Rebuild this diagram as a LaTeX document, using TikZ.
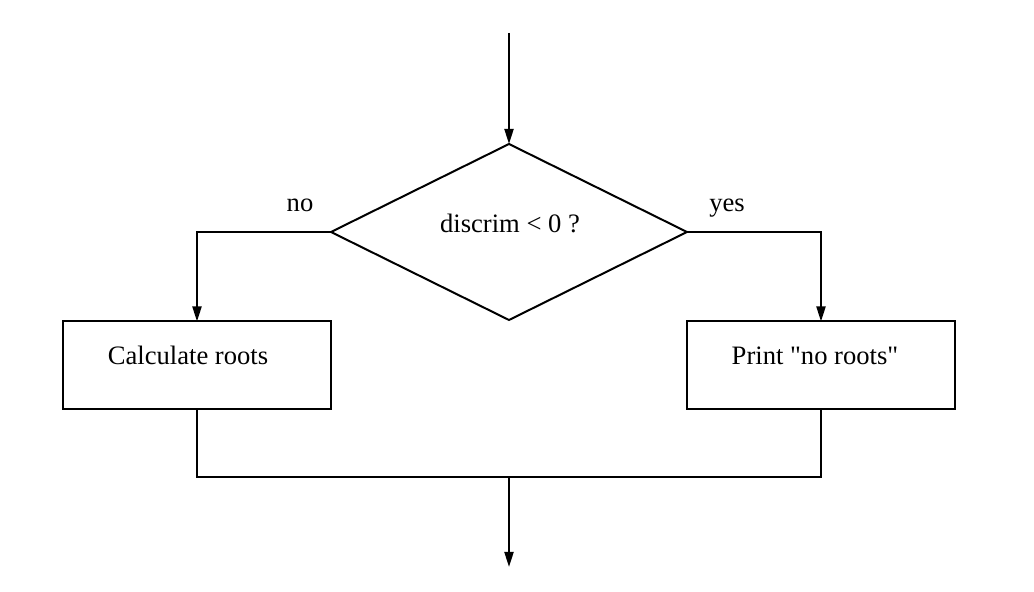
\documentclass[tikz,border=0pt]{standalone}
\usepackage{fontspec}
\setmainfont{Liberation Serif}
\usetikzlibrary{arrows.meta,shapes.geometric}

\tikzset{
  decision/.style={diamond,draw,inner sep=0pt,outer sep=0pt,
    minimum width=178pt,minimum height=88pt},
  process/.style={rectangle,draw,inner sep=0pt,outer sep=0pt,
    minimum width=134pt,minimum height=44pt},
  txt/.style={anchor=base,inner sep=0pt,font=\fontsize{13.3}{16}\selectfont},
}

\begin{document}
\begin{tikzpicture}[x=0.5pt,y=-0.5pt,>={Triangle[length=7.5pt,width=4.5pt]},line width=1pt]
  \useasboundingbox (0,0) rectangle (1034,592);

  % Decision
  \coordinate (start) at (509,33);
  \node[decision] (test) at (509,232) {};
  \node[txt] (testtext) at (510,233) {discrim < 0 ?};
  \node[txt] (no) at (300,212) {no};
  \node[txt] (yes) at (727,212) {yes};

  % Branches
  \node[process] (calc) at (197,365.5) {};
  \node[txt] (calctext) at (188,365) {Calculate roots};
  \node[process] (print) at (821,365.5) {};
  \node[txt] (printtext) at (815,365) {Print \textquotedbl no roots\textquotedbl};

  % Join and exit
  \coordinate (join) at (509,477);
  \coordinate (exit) at (509,567);

  \draw[->] (start) -- (test.north);
  \draw[->] (test.west) -| (calc.north);
  \draw[->] (test.east) -| (print.north);
  \draw (calc.south) |- (join) -| (print.south);
  \draw[->] (join) -- (exit);
\end{tikzpicture}
\end{document}
